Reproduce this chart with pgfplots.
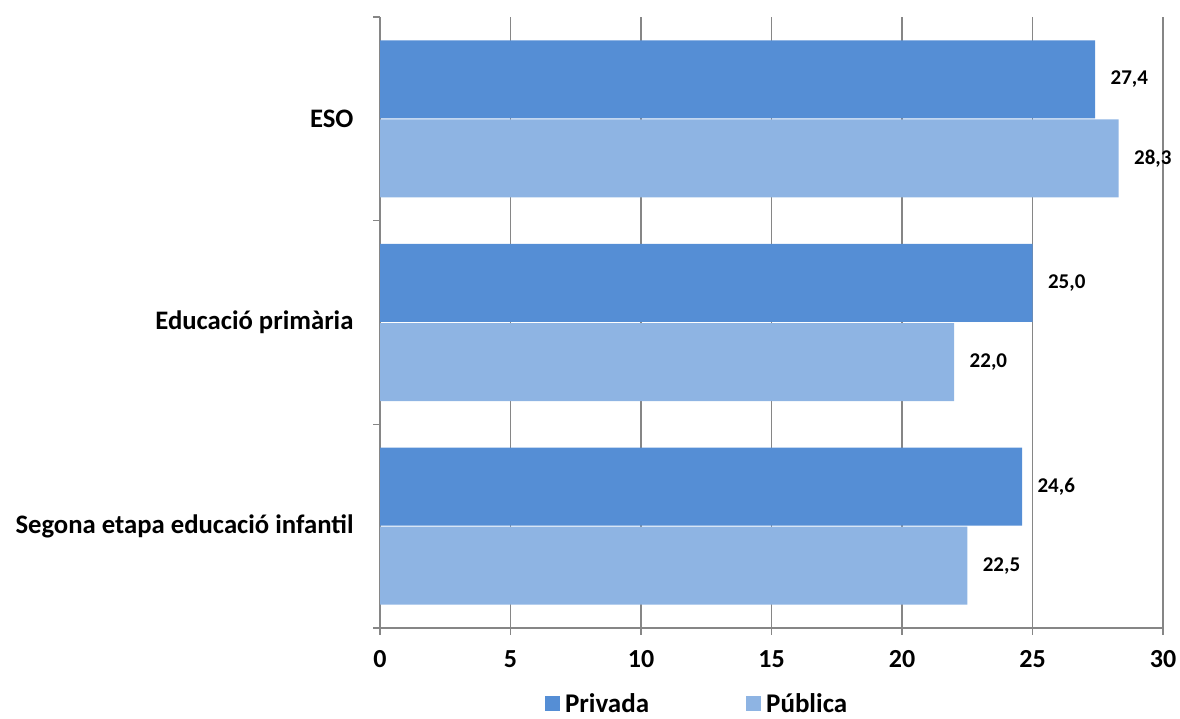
\documentclass[border=0pt]{standalone}
\usepackage{fontspec}
\setmainfont{Carlito}
\usepackage{pgfplots}
\pgfplotsset{compat=1.18}
\definecolor{priv}{HTML}{558ED5}
\definecolor{pub}{HTML}{8EB4E3}
\definecolor{axgray}{HTML}{868686}
\newcommand\tickfont{\fontsize{26}{30}\selectfont\bfseries}
\newcommand\legfont{\fontsize{27}{31}\selectfont\bfseries}
\newcommand\catfont{\fontsize{26.7}{30}\selectfont\bfseries}
\newcommand\valfont{\fontsize{21}{24}\selectfont\bfseries}
\begin{document}
\begin{tikzpicture}[x=1pt,y=1pt]
\path[use as bounding box] (0,0) rectangle (1180,719);
\begin{axis}[
  at={(380pt,91pt)}, anchor=south west,
  scale only axis, width=783pt, height=611pt,
  xmin=0, xmax=30, ymin=-0.5, ymax=2.5,
  xtick={0,5,...,30},
  ytick={-0.5,0.5,1.5,2.5}, yticklabels={},
  extra y ticks={0,1,2},
  extra y tick labels={Segona etapa educació infantil, Educació primària, ESO},
  extra y tick style={major tick length=0pt},
  yticklabel style={font=\catfont, xshift=-23pt},
  xticklabel style={font=\tickfont, yshift=-12pt},
  /pgf/number format/assume math mode=true,
  axis lines=left,
  axis line style={axgray, line width=2pt, -},
  xmajorgrids, grid style={axgray, line width=1.5pt},
  tick style={axgray, line width=1.5pt},
  tick align=outside, major tick length=7pt,
  xbar, bar width=0.383,
  point meta=x,
  nodes near coords={\pgfmathprintnumber[fixed,fixed zerofill,precision=1,use comma,assume math mode=true]{\pgfplotspointmeta}},
  nodes near coords align={horizontal},
  every node near coord/.append style={font=\valfont, black, xshift=12pt},
  legend style={at={(0.405,-0.124)}, anchor=center, draw=none, legend columns=2,
    font=\legfont, /tikz/every even column/.append style={column sep=95pt},
    /tikz/every odd column/.append style={column sep=3pt}},
  legend image code/.code={\fill[#1] (0pt,-7.5pt) rectangle (15pt,7.5pt);},
]
\addplot[fill=priv, draw=none, bar shift=0.194] coordinates {(24.6,0) (25.0,1) (27.4,2)};
\addplot[fill=pub, draw=none, bar shift=-0.194] coordinates {(22.5,0) (22.0,1) (28.3,2)};
\legend{Privada, Pública}
\end{axis}
\end{tikzpicture}
\end{document}
